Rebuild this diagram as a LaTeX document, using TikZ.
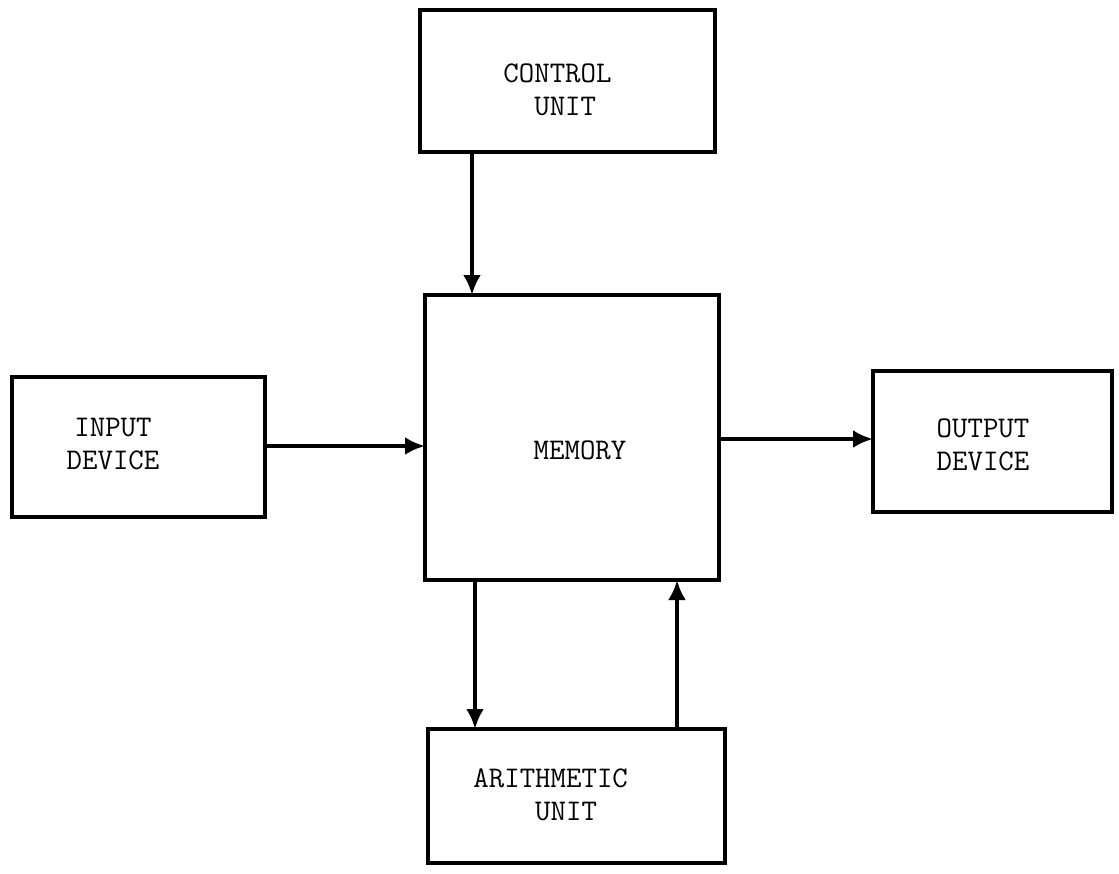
\documentclass[tikz,border=0pt]{standalone}
\usetikzlibrary{arrows.meta}
\tikzset{
  unitbox/.style={draw, line width=2.2pt, inner sep=0pt, outer sep=0pt},
  unittext/.style={font=\ttfamily\fontsize{15}{16.5}\selectfont, inner sep=0pt},
  flow/.style={line width=2pt, -{Latex[length=10pt,width=9pt]}}
}
\begin{document}
\begin{tikzpicture}[x=0.5pt,y=-0.5pt]
      \useasboundingbox (0,0) rectangle (1119,873);
      % boxes
      \node[unitbox, minimum width=147.5pt, minimum height=71pt] (control) at (567.5,81) {};
      \node[unitbox, minimum width=147pt, minimum height=142.5pt] (memory) at (572,437.5) {};
      \node[unitbox, minimum width=126.5pt, minimum height=70pt] (input) at (138.5,447) {};
      \node[unitbox, minimum width=119.5pt, minimum height=70.5pt] (output) at (992.5,441.5) {};
      \node[unitbox, minimum width=148.5pt, minimum height=67pt] (arith) at (576.5,796) {};
      % texts
      \node[unittext, anchor=west, align=left] (control-text) at (503,90) {CONTROL\\\phantom{CO}UNIT};
      \node[unittext] (memory-text) at (580,450) {MEMORY};
      \node[unittext, align=center] (input-text) at (113,444) {INPUT\\DEVICE};
      \node[unittext, align=center] (output-text) at (983,445) {OUTPUT\\DEVICE};
      \node[unittext, anchor=west, align=left] (arith-text) at (473,795) {ARITHMETIC\\\phantom{ARIT}UNIT};
      \begin{scope}[flow]
        \draw ([xshift=-47.75pt]control.south) to ([xshift=-50pt]memory.north);
        \draw ([yshift=0.5pt]input.east) to ([yshift=-4.25pt]memory.west);
        \draw ([yshift=-0.75pt]memory.east) to ([yshift=1.25pt]output.west);
        \draw ([xshift=-48.5pt]memory.south) to ([xshift=-50.75pt]arith.north);
        \draw ([xshift=50.25pt]arith.north) to ([xshift=52.5pt]memory.south);
      \end{scope}
    \end{tikzpicture}
\end{document}
